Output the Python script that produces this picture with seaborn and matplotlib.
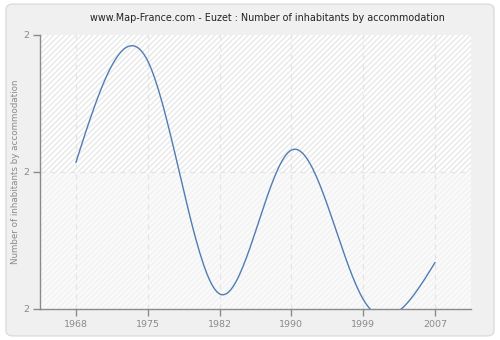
import numpy as np
import pandas as pd
import matplotlib
matplotlib.use("Agg")
import matplotlib.pyplot as plt
from matplotlib.patches import FancyBboxPatch
import seaborn as sns

years = ["1968", "1975", "1982", "1990", "1999", "2007"]
values = [2.307, 2.381, 2.211, 2.316, 2.207, 2.234]
ytick_labels = ["2", "2", "2"]
title = "www.Map-France.com - Euzet : Number of inhabitants by accommodation"
ylabel = "Number of inhabitants by accommodation"

ymin, ymax = 2.20, 2.40

sns.set_style("white")
plt.rcParams['font.family'] = ['DejaVu Sans']

# natural cubic spline over category positions (rendering of the smooth line)
def natural_spline(y, n=40):
    y = np.asarray(y, float)
    k = len(y)
    A = np.zeros((k, k)); b = np.zeros(k)
    A[0, 0] = 1; A[-1, -1] = 1
    for i in range(1, k - 1):
        A[i, i - 1] = 1; A[i, i] = 4; A[i, i + 1] = 1
        b[i] = 6 * (y[i + 1] - 2 * y[i] + y[i - 1])
    M = np.linalg.solve(A, b)
    xs, ys = [], []
    for i in range(k - 1):
        t = np.linspace(0, 1, n, endpoint=(i == k - 2))
        s = (M[i] * (1 - t) ** 3 / 6 + M[i + 1] * t ** 3 / 6
             + (y[i] - M[i] / 6) * (1 - t) + (y[i + 1] - M[i + 1] / 6) * t)
        xs.append(i + t); ys.append(s)
    return np.concatenate(xs), np.concatenate(ys)

sx, sy = natural_spline(values)
df = pd.DataFrame({"x": sx, "y": sy})

fig = plt.figure(figsize=(5.0, 3.4), dpi=100)
fig.patch.set_facecolor("white")
panel = FancyBboxPatch((0.012, 0.012), 0.976, 0.976, boxstyle="round,pad=0,rounding_size=0.015",
                       transform=fig.transFigure, facecolor="#f0f0f0", edgecolor="#dcdcdc",
                       linewidth=1.0, zorder=-10)
fig.patches.append(panel)

ax = fig.add_axes([0.080, 0.0912, 0.862, 0.806])
ax.set_facecolor("#ffffff")
ymid = (ymin + ymax) / 2
ax.axhspan(ymid, ymax, facecolor="#ffffff", edgecolor="#e8e8e8", hatch="//////", linewidth=0, zorder=0)
ax.axhspan(ymin, ymid, facecolor="#fafafa", edgecolor="#f2f2f2", hatch="//////", linewidth=0, zorder=0)

sns.lineplot(data=df, x="x", y="y", ax=ax, color="#4f7db3", linewidth=1.0,
             sort=False, estimator=None, zorder=3)

ax.set_xlim(-0.5, 5.5)
ax.set_ylim(ymin, ymax)
ax.set_xticks(range(len(years)))
ax.set_xticklabels(years)
ax.set_yticks([ymin, ymid, ymax])
ax.set_yticklabels(ytick_labels)
for xi in range(len(years)):
    ax.axvline(xi, color="#e4e4e4", linestyle=(0, (4, 4)), linewidth=0.9, zorder=1)
ax.axhline(ymid, color="#e4e4e4", linestyle=(0, (4, 4)), linewidth=0.9, zorder=1)

for s in ["top", "right"]:
    ax.spines[s].set_visible(False)
for s in ["left", "bottom"]:
    ax.spines[s].set_color("#8a8a8a")
    ax.spines[s].set_linewidth(1.0)
ax.tick_params(axis="both", colors="#8a8a8a", labelcolor="#8a8a8a", labelsize=6.8,
               length=5, width=1, direction="out", left=True, bottom=True, pad=3)
ax.set_xlabel("")
ax.set_ylabel(ylabel, color="#8a8a8a", fontsize=6.3)
ax.yaxis.set_label_coords(-0.047, 0.5)
fig.text(0.534, 0.947, title, ha="center", va="center", fontsize=6.9, color="#222222")

fig.savefig("out.png", dpi=100, facecolor=fig.get_facecolor())
